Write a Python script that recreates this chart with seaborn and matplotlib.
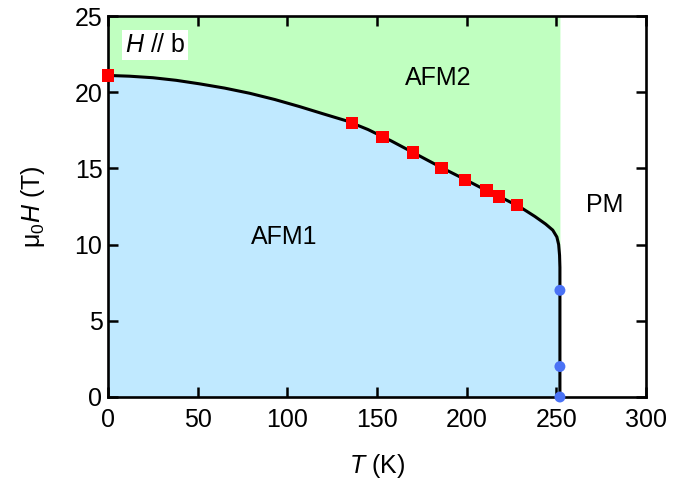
import matplotlib
matplotlib.use("Agg")
import matplotlib.pyplot as plt
import seaborn as sns
import pandas as pd

# Phase boundary
T_curve = [0, 12, 25, 38, 51, 65, 79, 93, 107, 120, 133, 145, 158, 170, 186, 199, 211,
           220, 230, 238, 244, 248, 250.3, 251.3, 251.8, 252, 252]
H_curve = [21.1, 21.05, 20.95, 20.78, 20.55, 20.27, 19.93, 19.52, 19.05, 18.58, 18.12,
           17.55, 16.8, 16.05, 15.05, 14.28, 13.55, 13.05, 12.45, 11.85, 11.35, 10.95,
           10.5, 10.0, 9.3, 8.5, 0.0]

# Red squares
T_sq = [0, 136, 153, 170, 186, 199, 211, 218, 228]
H_sq = [21.1, 18.0, 17.05, 16.05, 15.05, 14.25, 13.55, 13.15, 12.6]

# Blue circles
T_ci = [252, 252, 252]
H_ci = [7.0, 2.0, 0.0]

sns.set_style("ticks")
plt.rcParams["font.family"] = ["Liberation Sans", "DejaVu Sans"]
plt.rcParams["mathtext.fontset"] = "custom"
plt.rcParams["mathtext.rm"] = "Liberation Sans"
plt.rcParams["mathtext.it"] = "Liberation Sans:italic"
plt.rcParams["text.color"] = "black"
plt.rcParams["axes.labelcolor"] = "black"
plt.rcParams["axes.edgecolor"] = "black"
plt.rcParams["xtick.color"] = "black"
plt.rcParams["ytick.color"] = "black"

FS = 18

fig = plt.figure(figsize=(6.93, 4.87), dpi=100)
ax = fig.add_axes([108/693, (487-397)/487, (646-108)/693, (397-16)/487])

ax.fill_between(T_curve, H_curve, 25, color="#c0ffc0", lw=0, zorder=0)
ax.fill_between(T_curve, 0, H_curve, color="#c0e9ff", lw=0, zorder=0)

df_c = pd.DataFrame({"T": T_curve, "H": H_curve})
sns.lineplot(data=df_c, x="T", y="H", sort=False, estimator=None, color="black", lw=2.2, ax=ax, zorder=2)
df_s = pd.DataFrame({"T": T_sq, "H": H_sq})
sns.scatterplot(data=df_s, x="T", y="H", marker="s", s=78, color="#ff0000", edgecolor="none", ax=ax, zorder=3, clip_on=False)
df_b = pd.DataFrame({"T": T_ci, "H": H_ci})
sns.scatterplot(data=df_b, x="T", y="H", marker="o", s=62, color="#4a72f5", edgecolor="none", ax=ax, zorder=3, clip_on=False)

ax.set_xlim(0, 300)
ax.set_ylim(0, 25)
ax.set_xticks([0, 50, 100, 150, 200, 250, 300])
ax.set_yticks([0, 5, 10, 15, 20, 25])
ax.tick_params(direction="in", length=7, width=1.8, labelsize=FS, top=True, right=True,
               colors="black")
ax.tick_params(axis="x", pad=8)
ax.tick_params(axis="y", pad=4)
for s in ax.spines.values():
    s.set_linewidth(1.9)
    s.set_color("black")
    s.set_visible(True)

ax.set_xlabel("$\\it{T}$ (K)", fontsize=FS, labelpad=14, color="black")
ax.set_ylabel("μ$_0$$\\it{H}$ (T)", fontsize=FS, labelpad=20, color="black")

ax.text(9.5, 23.1, "$\\it{H}$ // b", fontsize=FS, va="center", ha="left", color="black",
        bbox=dict(facecolor="white", edgecolor="none", pad=2))
ax.text(184, 20.9, "AFM2", fontsize=FS, ha="center", va="center", color="black")
ax.text(98.5, 10.5, "AFM1", fontsize=FS, ha="center", va="center", color="black")
ax.text(277, 12.6, "PM", fontsize=FS, ha="center", va="center", color="black")

fig.savefig("out.png", dpi=100)
